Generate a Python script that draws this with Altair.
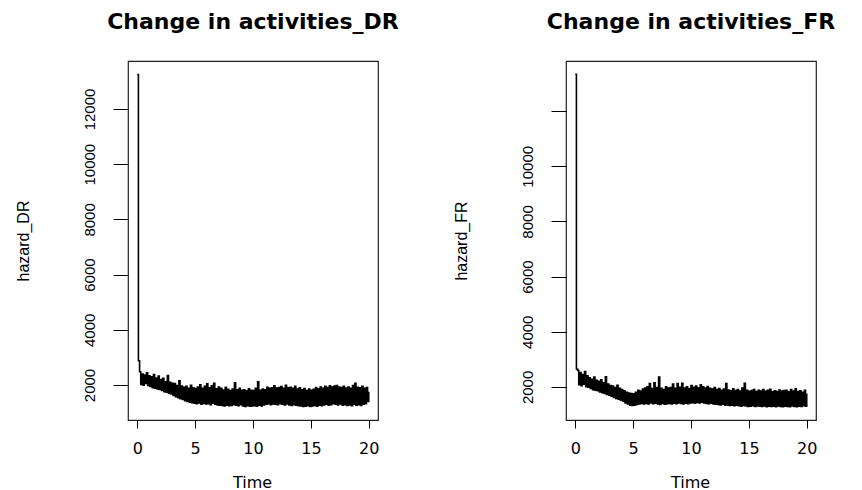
import altair as alt
import pandas as pd

# Time grid (0 to 20, step 0.1)
times = [round(i * 0.1, 1) for i in range(201)]

# hazard_DR values
dr_hazard = [
    13250, 2880,
    2480, 2020, 2400, 1990, 2360, 2060, 2440, 1980, 2330,
    1950, 2300, 1900, 2380, 1880, 2250, 1860, 2320, 1840, 2200,
    1800, 2240, 1760, 2120, 1740, 2340, 1700, 2100, 1680, 2060,
    1620, 2050, 1580, 1980, 1540, 2150, 1500, 1960, 1480, 1920,
    1430, 1950, 1400, 1880, 1380, 1990, 1360, 1900, 1340, 1870,
    1320, 1930, 1350, 2010, 1300, 1880, 1330, 1950, 1310, 2040,
    1320, 1900, 1290, 1970, 1340, 2060, 1300, 1860, 1280, 1930,
    1270, 1880, 1260, 1820, 1240, 1920, 1270, 1840, 1250, 1800,
    1260, 1850, 1290, 2080, 1270, 1830, 1250, 1880, 1290, 1810,
    1240, 1830, 1220, 1790, 1250, 1860, 1230, 1810, 1240, 1800,
    1250, 1880, 1230, 2120, 1270, 1810, 1240, 1850, 1280, 1830,
    1300, 1920, 1320, 1880, 1290, 1900, 1310, 1970, 1300, 1890,
    1290, 1910, 1320, 1940, 1300, 1880, 1280, 1990, 1310, 1900,
    1280, 1920, 1260, 1880, 1290, 1950, 1270, 1850, 1250, 1900,
    1240, 1830, 1220, 1870, 1230, 1800, 1250, 1850, 1220, 1810,
    1240, 1840, 1260, 1910, 1230, 1860, 1270, 1930, 1250, 1880,
    1280, 1950, 1300, 1910, 1270, 1970, 1290, 1930, 1320, 1960,
    1300, 1980, 1280, 1930, 1310, 1910, 1270, 1950, 1290, 1890,
    1260, 1930, 1280, 1880, 1250, 1980, 1300, 2060, 1270, 1920,
    1290, 1900, 1260, 1950, 1300, 1880, 1320, 1910, 1400, 1760,
]

# hazard_FR values
fr_hazard = [
    13340, 2650,
    2600, 2080, 2520, 2040, 2450, 2100, 2560, 2010, 2400,
    1990, 2330, 1940, 2280, 1900, 2360, 1880, 2240, 1860, 2200,
    1820, 2260, 1790, 2150, 1760, 2370, 1730, 2100, 1700, 2050,
    1660, 2030, 1620, 1980, 1580, 2060, 1550, 1950, 1520, 1900,
    1480, 1860, 1420, 1800, 1380, 1780, 1340, 1760, 1330, 1750,
    1340, 1800, 1360, 1880, 1380, 1850, 1400, 1920, 1380, 1960,
    1400, 2000, 1380, 2120, 1420, 1940, 1390, 2150, 1410, 1980,
    1380, 2360, 1360, 1950, 1400, 1900, 1370, 2000, 1390, 1960,
    1400, 1980, 1380, 2100, 1410, 1950, 1390, 2120, 1420, 1990,
    1400, 2130, 1380, 1960, 1410, 2000, 1390, 1940, 1420, 2050,
    1430, 1990, 1410, 2030, 1440, 1970, 1420, 2080, 1450, 2000,
    1420, 1960, 1400, 2010, 1390, 1950, 1410, 1920, 1380, 1980,
    1370, 1900, 1360, 1940, 1350, 1880, 1370, 1920, 1340, 2120,
    1350, 1890, 1330, 1860, 1340, 1930, 1320, 1870, 1340, 1900,
    1320, 1850, 1300, 1960, 1330, 2130, 1310, 1880, 1290, 1840,
    1300, 1870, 1320, 1900, 1290, 1830, 1310, 1880, 1300, 1850,
    1290, 1900, 1310, 1840, 1280, 1880, 1300, 1910, 1290, 1820,
    1300, 1860, 1280, 1830, 1310, 1890, 1290, 1850, 1280, 1870,
    1300, 1880, 1290, 1820, 1280, 1900, 1310, 1850, 1290, 1930,
    1280, 1830, 1300, 1860, 1290, 1800, 1320, 1880, 1300, 1760,
]

x_ticks = [0, 5, 10, 15, 20]
y_ticks = [2000, 4000, 6000, 8000, 10000, 12000]
titles = ["Change in activities_DR", "Change in activities_FR"]
y_titles = ["hazard_DR", "hazard_FR"]
y_domains = [[732, 13739], [800, 13818]]
x_domain = [-0.8, 20.8]


def panel(values, title, ytitle, ydomain, hide_top):
    df = pd.DataFrame({"Time": times, "hazard": values})
    label_expr = "datum.value == 12000 ? '' : datum.label" if hide_top else "datum.label"
    return (
        alt.Chart(df)
        .mark_line(color="black", strokeWidth=1.6, interpolate="step-after", clip=True)
        .encode(
            x=alt.X(
                "Time:Q",
                scale=alt.Scale(domain=x_domain, nice=False, zero=False),
                axis=alt.Axis(
                    values=x_ticks, format="d", title="Time",
                    labelFont="DejaVu Sans", labelFontSize=16, labelColor="black",
                    labelPadding=12, labelFlush=False, labelOverlap=False,
                    tickSize=8, tickColor="black", tickWidth=1,
                    domain=False, grid=False,
                    titleFont="DejaVu Sans", titleFontSize=16, titleFontWeight="normal",
                    titleColor="black", titleX=124, titleY=67,
                    titleBaseline="alphabetic", titleAlign="center",
                ),
            ),
            y=alt.Y(
                "hazard:Q",
                scale=alt.Scale(domain=ydomain, nice=False, zero=False),
                axis=alt.Axis(
                    values=y_ticks, format="d", labelExpr=label_expr, title=ytitle,
                    labelFont="Liberation Sans", labelFontSize=15, labelColor="black",
                    labelAngle=270, labelAlign="center", labelBaseline="alphabetic",
                    labelPadding=19, labelFlush=False, labelOverlap=False,
                    tickSize=15, tickColor="black", tickWidth=1,
                    domain=False, grid=False,
                    titleFont="Liberation Sans", titleFontSize=16, titleFontWeight="normal",
                    titleColor="black", titleAngle=270, titleX=-105, titleY=179.5,
                    titleBaseline="middle", titleAlign="center",
                ),
            ),
        )
        .properties(
            width=250,
            height=359,
            title=alt.TitleParams(
                title, font="DejaVu Sans", fontSize=22, fontWeight="bold",
                color="black", anchor="middle", frame="group", offset=10,
                baseline="alphabetic",
            ),
        )
    )


left = panel(dr_hazard, titles[0], y_titles[0], y_domains[0], False)
right = panel(fr_hazard, titles[1], y_titles[1], y_domains[1], True)

chart = (
    alt.hconcat(left, right, spacing=188, bounds="flush")
    .configure_view(stroke="#222222", strokeWidth=1.2)
    .properties(padding={"left": 14, "top": 10, "right": 5, "bottom": 0}, background="white")
)

chart.save("out.html", embed_options={"renderer": "svg", "actions": False})
